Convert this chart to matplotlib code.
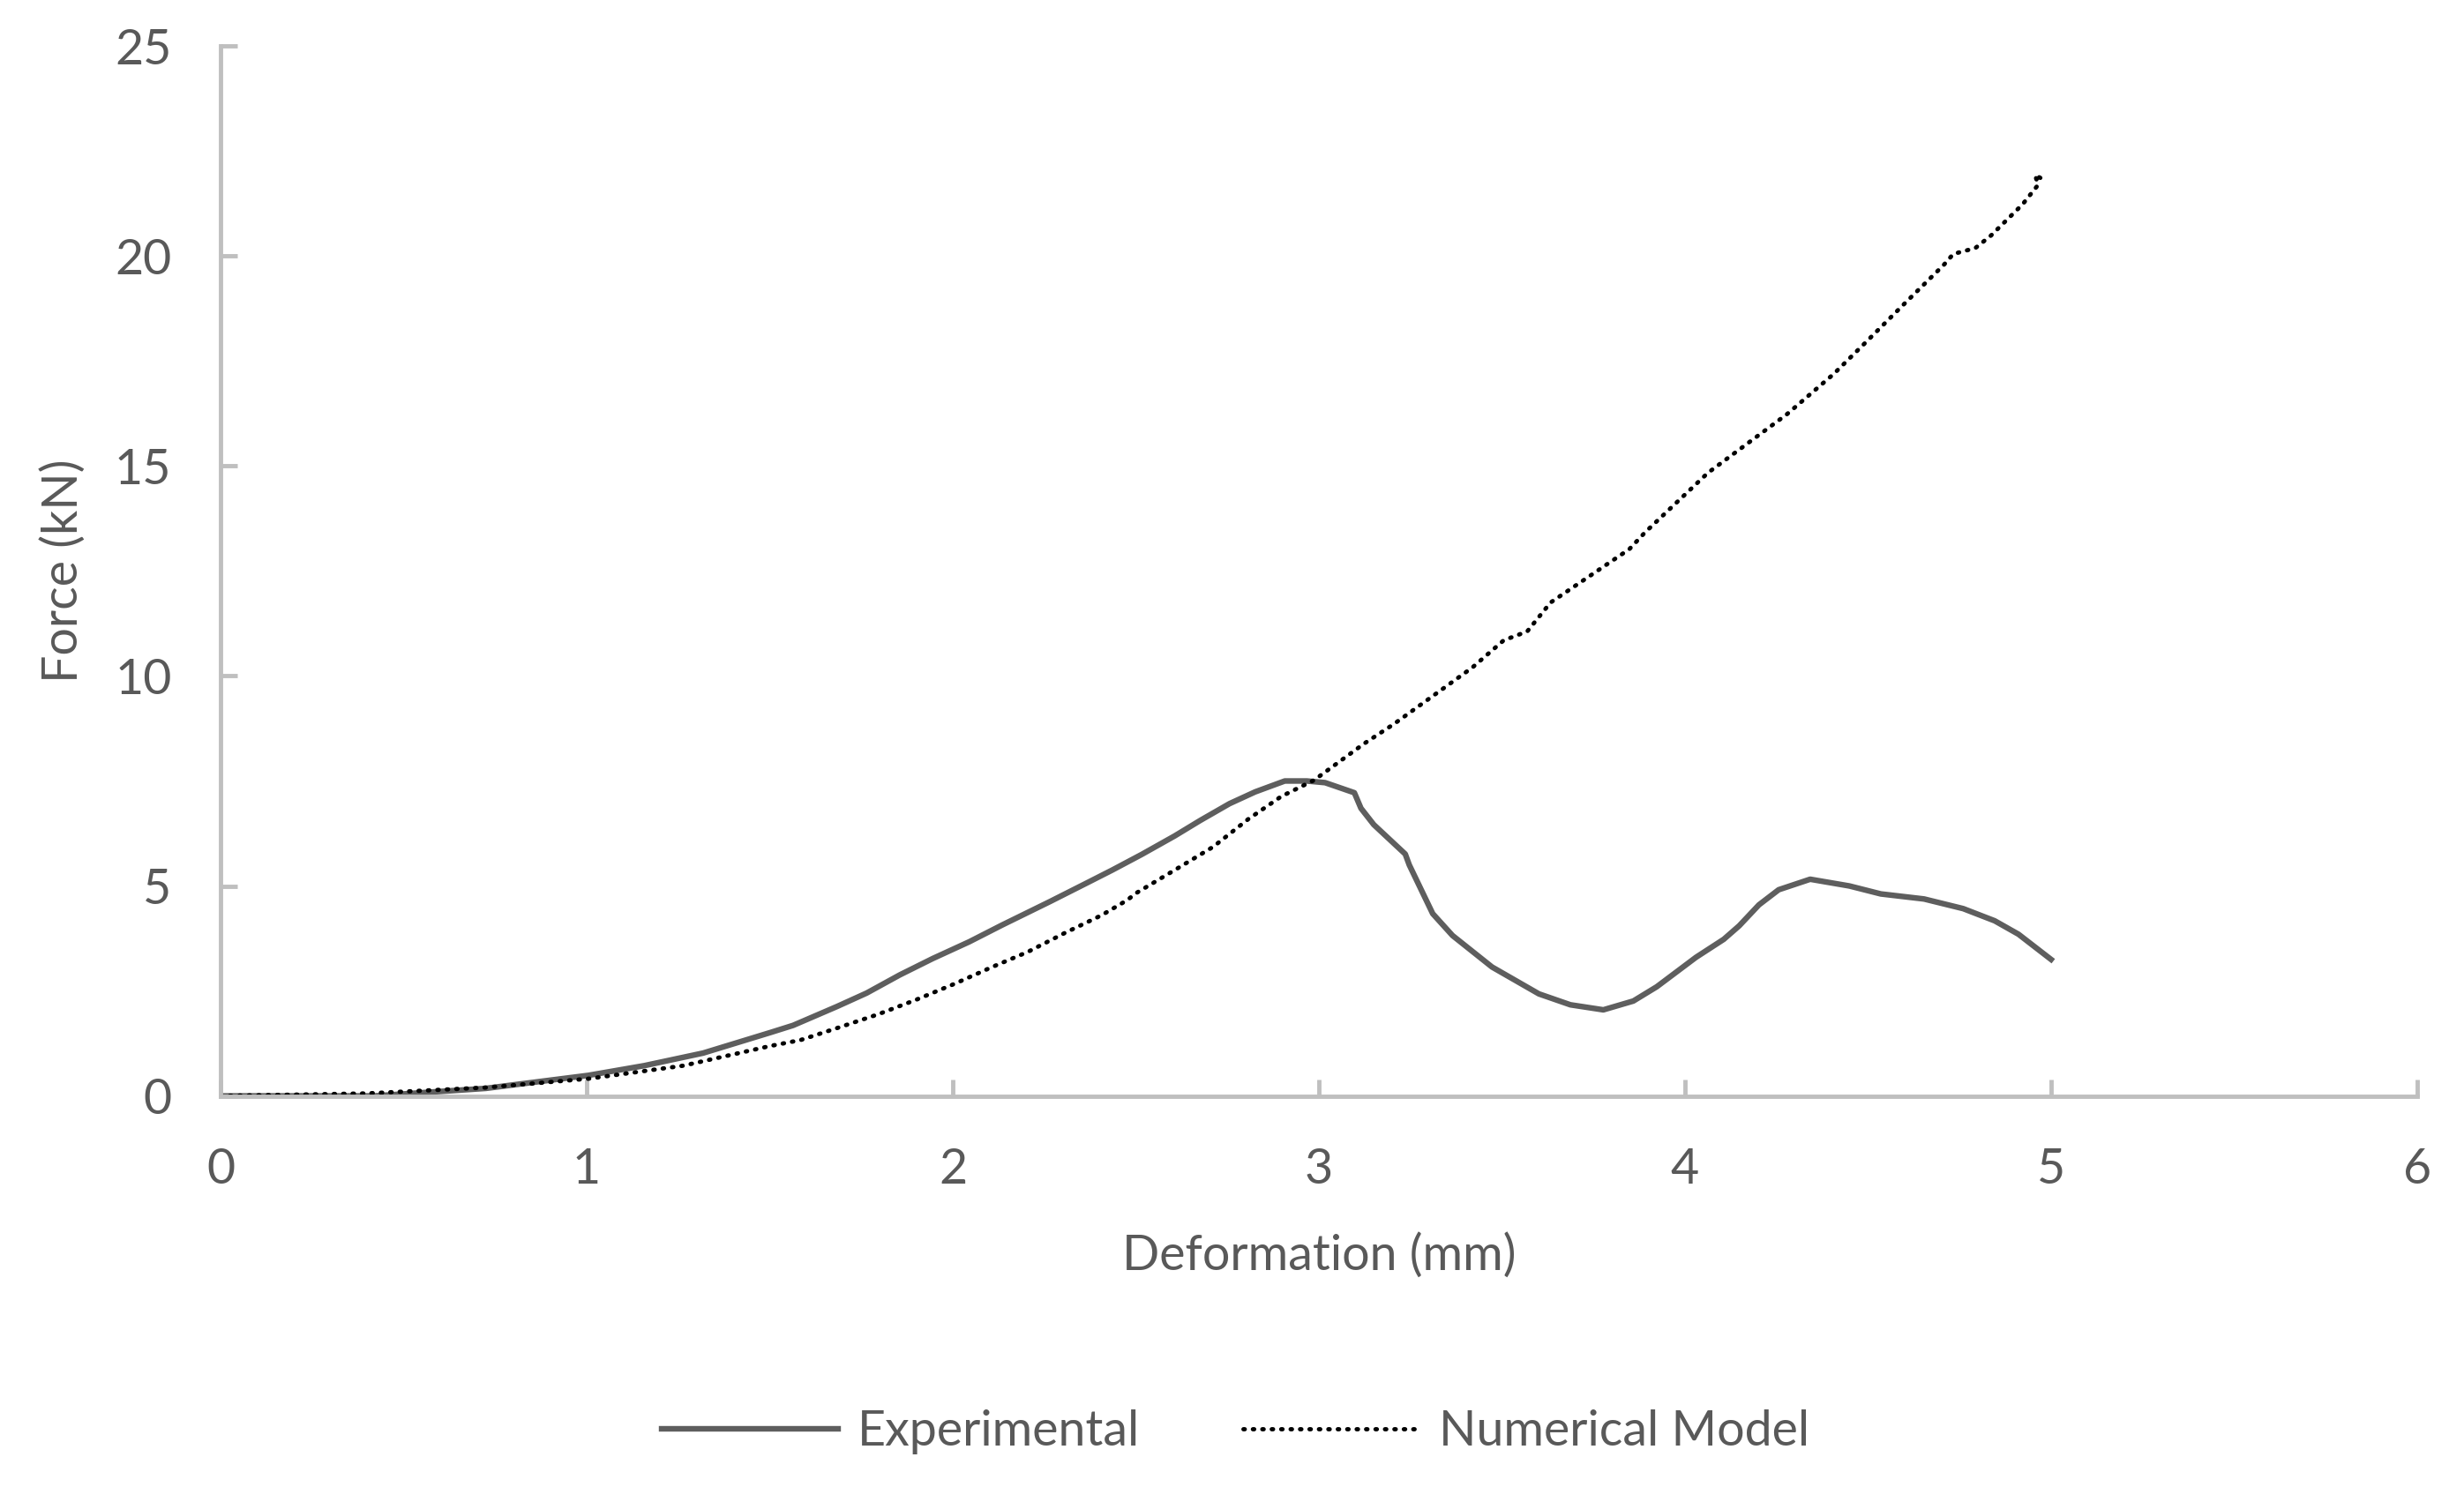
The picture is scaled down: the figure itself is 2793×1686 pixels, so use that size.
import numpy as np
import matplotlib
matplotlib.use("Agg")
import matplotlib.pyplot as plt

# Experimental curve
exp_x = [0.0, 0.42, 0.725, 1.005, 1.157, 1.318, 1.502, 1.564, 1.684, 1.765, 1.855,
         1.945, 2.045, 2.135, 2.266, 2.366, 2.436, 2.516, 2.606, 2.676, 2.756,
         2.826, 2.907, 2.967, 3.017, 3.097, 3.115, 3.150, 3.236, 3.247, 3.311,
         3.365, 3.473, 3.601, 3.687, 3.777, 3.859, 3.923, 4.030, 4.106, 4.148,
         4.202, 4.256, 4.342, 4.449, 4.535, 4.653, 4.760, 4.846, 4.911, 5.0]
exp_y = [0.0, 0.0, 0.18, 0.49, 0.72, 1.02, 1.51, 1.68, 2.13, 2.45, 2.88,
         3.27, 3.67, 4.07, 4.63, 5.07, 5.38, 5.75, 6.19, 6.56, 6.96,
         7.24, 7.50, 7.50, 7.46, 7.22, 6.85, 6.46, 5.76, 5.50, 4.34,
         3.82, 3.07, 2.43, 2.17, 2.05, 2.26, 2.60, 3.30, 3.73, 4.05,
         4.55, 4.91, 5.16, 5.00, 4.81, 4.69, 4.46, 4.17, 3.85, 3.25]

# Numerical model curve
num_x = [0.0, 0.40, 0.725, 1.005, 1.264, 1.502, 1.584, 1.689, 1.795, 1.900,
         2.005, 2.105, 2.205, 2.306, 2.406, 2.476, 2.501, 2.616, 2.711, 2.807,
         2.897, 2.987, 3.122, 3.204, 3.419, 3.505, 3.569, 3.633, 3.848, 3.891,
         4.063, 4.278, 4.406, 4.492, 4.600, 4.707, 4.733, 4.793, 4.836, 4.922,
         4.965, 4.956, 4.986]
num_y = [0.0, 0.06, 0.20, 0.41, 0.72, 1.19, 1.33, 1.63, 1.94, 2.29,
         2.67, 3.06, 3.43, 3.88, 4.30, 4.66, 4.83, 5.43, 5.93, 6.59,
         7.13, 7.52, 8.38, 8.85, 10.20, 10.85, 11.06, 11.75, 13.02, 13.42,
         14.84, 16.23, 17.19, 17.93, 18.87, 19.79, 20.05, 20.19, 20.49, 21.23,
         21.70, 21.93, 21.79]

x_ticks = [0, 1, 2, 3, 4, 5, 6]
y_ticks = [0, 5, 10, 15, 20, 25]

TXT = "#595959"
AX = "#BFBFBF"
FS = 40

plt.rcParams['font.family'] = ['Lato', 'DejaVu Sans']

fig = plt.figure(figsize=(27.93, 16.86), dpi=100)
ax = fig.add_axes([0.0895, 0.263, 0.8915, 0.706])

ax.plot(exp_x, exp_y, color="#5E5E5E", lw=4.6, solid_joinstyle='round',
        label="Experimental")
ax.plot(num_x, num_y, color="black", lw=3.5, linestyle=(0, (0.3, 1.9)),
        dash_capstyle='round', label="Numerical Model")

ax.set_xlim(0, 6)
ax.set_ylim(0, 25)
ax.set_xticks(x_ticks)
ax.set_yticks(y_ticks)

for s in ["top", "right"]:
    ax.spines[s].set_visible(False)
for s in ["left", "bottom"]:
    ax.spines[s].set_color(AX)
    ax.spines[s].set_linewidth(3.5)

ax.tick_params(axis='both', direction='in', length=14, width=3.5, color=AX,
               labelcolor=TXT, labelsize=FS)
ax.tick_params(axis='y', pad=40)
ax.tick_params(axis='x', pad=42)

ax.set_xlabel("Deformation (mm)", fontsize=FS, color=TXT)
ax.set_ylabel("Force (kN)", fontsize=FS, color=TXT)
ax.xaxis.set_label_coords(0.5, -0.152)
ax.yaxis.set_label_coords(-0.0717, 0.5)
ax.xaxis.label.set_va('center')
ax.yaxis.label.set_va('center')

fig.legend(loc='center', bbox_to_anchor=(0.5015, 0.037), ncol=2, frameon=False,
           fontsize=FS, labelcolor=TXT, handlelength=3.6, handletextpad=0.4,
           columnspacing=2.1)

fig.savefig("out.png", dpi=100)
